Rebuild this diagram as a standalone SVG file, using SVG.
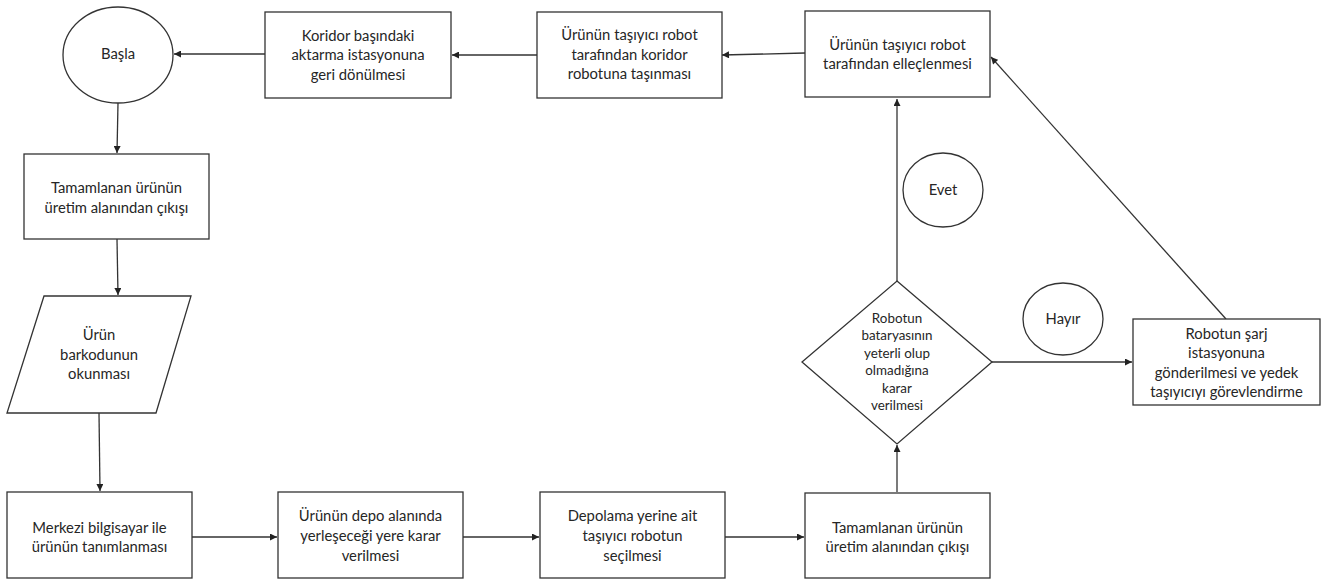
<svg xmlns="http://www.w3.org/2000/svg" width="1325" height="583" viewBox="0 0 1325 583">
<style>
.s{fill:#fff;stroke:#333;stroke-width:1.3}
.t{font-family:Lato,"Liberation Sans",sans-serif;font-size:14.8px;fill:#262626;text-anchor:middle}
.d{font-family:Lato,"Liberation Sans",sans-serif;font-size:13.4px;fill:#262626;text-anchor:middle}
.c{fill:none;stroke:#333;stroke-width:1.3;marker-end:url(#ah)}
</style>
<defs>
<marker id="ah" viewBox="0 0 10 10" refX="10" refY="5" markerWidth="8" markerHeight="7" markerUnits="userSpaceOnUse" orient="auto">
<path d="M0,0 L10,5 L0,10 z" fill="#222"/>
</marker>
</defs>
<rect width="1325" height="583" fill="#fff"/>
<g id="connectors">
<line class="c" x1="265" y1="54" x2="174" y2="54"/>
<line class="c" x1="537" y1="55" x2="452" y2="55"/>
<line class="c" x1="805" y1="53" x2="722" y2="55"/>
<line class="c" x1="118" y1="103" x2="117" y2="153"/>
<line class="c" x1="117" y1="239" x2="118" y2="295"/>
<line class="c" x1="99" y1="413" x2="100" y2="491"/>
<line class="c" x1="192" y1="537" x2="277" y2="537"/>
<line class="c" x1="463" y1="537" x2="539" y2="537"/>
<line class="c" x1="725" y1="537" x2="804" y2="537"/>
<line class="c" x1="897" y1="492" x2="897" y2="445"/>
<line class="c" x1="897" y1="281" x2="897" y2="99"/>
<line class="c" x1="992" y1="362" x2="1132" y2="362"/>
<line class="c" x1="1226" y1="319" x2="991" y2="57"/>
</g>
<g id="basla">
<ellipse class="s" cx="118" cy="55" rx="55" ry="48"/>
<text class="t" x="118" y="59">Başla</text>
</g>
<g id="koridor">
<rect class="s" x="265" y="12" width="186" height="86"/>
<text class="t" x="358" y="41">Koridor başındaki</text>
<text class="t" x="358" y="60">aktarma istasyonuna</text>
<text class="t" x="358" y="80">geri dönülmesi</text>
</g>
<g id="tasinmasi">
<rect class="s" x="537" y="12" width="185" height="86"/>
<text class="t" x="629.5" y="40">Ürünün taşıyıcı robot</text>
<text class="t" x="629.5" y="60">tarafından koridor</text>
<text class="t" x="629.5" y="79">robotuna taşınması</text>
</g>
<g id="ellecleme">
<rect class="s" x="805" y="11" width="185" height="86"/>
<text class="t" x="897.5" y="50">Ürünün taşıyıcı robot</text>
<text class="t" x="897.5" y="69">tarafından elleçlenmesi</text>
</g>
<g id="tamamlanan1">
<rect class="s" x="24" y="154" width="185" height="85"/>
<text class="t" x="116.5" y="193">Tamamlanan ürünün</text>
<text class="t" x="116.5" y="213">üretim alanından çıkışı</text>
</g>
<g id="barkod">
<polygon class="s" points="44,296 191,296 156,413 7,413"/>
<text class="t" x="99" y="340">Ürün</text>
<text class="t" x="99" y="360">barkodunun</text>
<text class="t" x="99" y="379">okunması</text>
</g>
<g id="merkezi">
<rect class="s" x="7" y="492" width="185" height="86"/>
<text class="t" x="99.5" y="533">Merkezi bilgisayar ile</text>
<text class="t" x="99.5" y="552">ürünün tanımlanması</text>
</g>
<g id="depo">
<rect class="s" x="278" y="492" width="185" height="86"/>
<text class="t" x="370.5" y="521">Ürünün depo alanında</text>
<text class="t" x="370.5" y="541">yerleşeceği yere karar</text>
<text class="t" x="370.5" y="561">verilmesi</text>
</g>
<g id="depolama">
<rect class="s" x="540" y="492" width="185" height="86"/>
<text class="t" x="632.5" y="521">Depolama yerine ait</text>
<text class="t" x="632.5" y="541">taşıyıcı robotun</text>
<text class="t" x="632.5" y="561">seçilmesi</text>
</g>
<g id="tamamlanan2">
<rect class="s" x="805" y="493" width="185" height="85"/>
<text class="t" x="897.5" y="533">Tamamlanan ürünün</text>
<text class="t" x="897.5" y="552">üretim alanından çıkışı</text>
</g>
<g id="karar">
<polygon class="s" points="897,281 992,362 897,444 802,362"/>
<text class="d" x="897" y="323">Robotun</text>
<text class="d" x="897" y="340">bataryasının</text>
<text class="d" x="897" y="358">yeterli olup</text>
<text class="d" x="897" y="375">olmadığına</text>
<text class="d" x="897" y="393">karar</text>
<text class="d" x="897" y="410">verilmesi</text>
</g>
<g id="evet">
<ellipse class="s" cx="943" cy="190" rx="40" ry="37"/>
<text class="t" x="943" y="195">Evet</text>
</g>
<g id="hayir">
<ellipse class="s" cx="1063" cy="319" rx="40" ry="36"/>
<text class="t" x="1063" y="324">Hayır</text>
</g>
<g id="sarj">
<rect class="s" x="1133" y="319" width="187" height="86"/>
<text class="t" x="1226.5" y="339">Robotun şarj</text>
<text class="t" x="1226.5" y="358">istasyonuna</text>
<text class="t" x="1226.5" y="378">gönderilmesi ve yedek</text>
<text class="t" x="1226.5" y="397">taşıyıcıyı görevlendirme</text>
</g>
</svg>
